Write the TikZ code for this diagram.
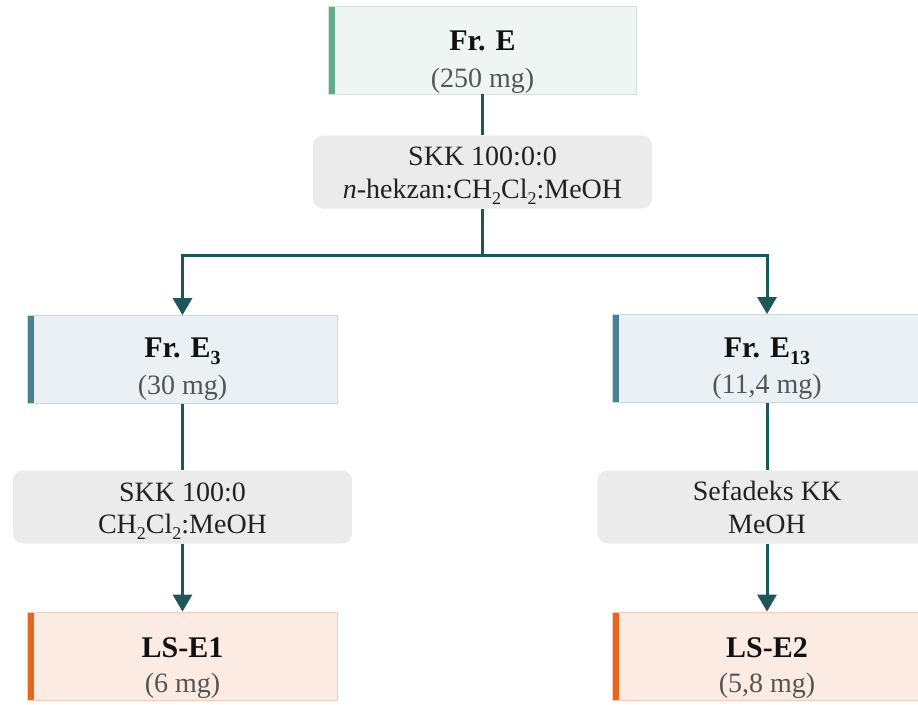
\documentclass[tikz,border=0pt]{standalone}
\usepackage{fontspec}
\setmainfont{Liberation Serif}
\usetikzlibrary{arrows.meta}

\definecolor{greenbar}{HTML}{62AA8E}
\definecolor{greenfill}{HTML}{EEF5F2}
\definecolor{greenline}{HTML}{CFE3DA}
\definecolor{bluebar}{HTML}{4B8093}
\definecolor{bluefill}{HTML}{EAF0F3}
\definecolor{blueline}{HTML}{C5DAE3}
\definecolor{orangebar}{HTML}{E8661C}
\definecolor{orangefill}{HTML}{FCEBE3}
\definecolor{orangeline}{HTML}{F6CDB8}
\definecolor{procfill}{HTML}{EBEBEB}
\definecolor{linkcol}{HTML}{1E5659}
\definecolor{masscol}{HTML}{555555}
\definecolor{titlecol}{HTML}{111111}
\definecolor{proccol}{HTML}{222222}

% lowered subscripts for the title lines and the solvent lines
\newcommand{\titlesub}[1]{\raisebox{-7pt}{\fontsize{20}{20}\selectfont #1}}
\newcommand{\procsub}[1]{\raisebox{-6pt}{\fontsize{18}{18}\selectfont #1}}

\begin{document}
\begin{tikzpicture}[x=1pt,y=-1pt,
  fracbox/.style n args={3}{draw=#1, fill=#2, line width=0.8pt,
    minimum width=310pt, minimum height=88pt, inner sep=0pt,
    path picture={\fill[#3] (path picture bounding box.north west)
      rectangle ([xshift=6.5pt]path picture bounding box.south west);}},
  greenbox/.style={fracbox={greenline}{greenfill}{greenbar}},
  bluebox/.style={fracbox={blueline}{bluefill}{bluebar}},
  orangebox/.style={fracbox={orangeline}{orangefill}{orangebar}},
  procbox/.style={fill=procfill, rounded corners=10pt,
    minimum width=339pt, minimum height=73pt, inner sep=0pt},
  titletext/.style={anchor=base, inner sep=0pt, text=titlecol,
    font=\fontsize{30}{36}\selectfont\bfseries},
  masstext/.style={anchor=base, inner sep=0pt, text=masscol,
    font=\fontsize{28}{34}\selectfont},
  proctext/.style={anchor=base, inner sep=0pt, text=proccol,
    font=\fontsize{28}{34}\selectfont},
  link/.style={draw=linkcol, line width=3pt},
  arrowlink/.style={link, -{Triangle[length=17pt,width=19pt]}}
]
\clip (0,0) rectangle (918,704);
\fill[white] (0,0) rectangle (918,704);

% fraction E and the first column
\node[greenbox, minimum width=308pt] (fre) at (482.5,50) {};
\node[titletext] (fre-t) at (482.5,50) {Fr. E};
\node[masstext] (fre-m) at (482.5,87) {(250 mg)};

\node[procbox] (skk) at (482.5,172) {};
\node[proctext] (skk-a) at (482.5,165) {SKK 100:0:0};
\node[proctext] (skk-b) at (482.5,198) {\textit{n}-hekzan:CH\procsub{2}Cl\procsub{2}:MeOH};

% sub-fractions
\node[bluebox] (fre3) at (182.5,359.5) {};
\node[titletext] (fre3-t) at (182.5,357) {Fr. E\titlesub{3}};
\node[masstext] (fre3-m) at (182.5,394) {(30 mg)};

\node[bluebox] (fre13) at (767,358.5) {};
\node[titletext] (fre13-t) at (767,357) {Fr. E\titlesub{13}};
\node[masstext] (fre13-m) at (767,393) {(11,4 mg)};

% second separation steps
\node[procbox] (skk2) at (182.5,507) {};
\node[proctext] (skk2-a) at (182.5,501) {SKK 100:0};
\node[proctext] (skk2-b) at (182.5,533) {CH\procsub{2}Cl\procsub{2}:MeOH};

\node[procbox] (sef) at (767,507) {};
\node[proctext] (sef-a) at (767,500) {Sefadeks KK};
\node[proctext] (sef-b) at (767,533) {MeOH};

% isolated compounds
\node[orangebox] (lse1) at (182.5,656) {};
\node[titletext] (lse1-t) at (182.5,657) {LS-E1};
\node[masstext] (lse1-m) at (182.5,692) {(6 mg)};

\node[orangebox] (lse2) at (767,656) {};
\node[titletext] (lse2-t) at (767,657) {LS-E2};
\node[masstext] (lse2-m) at (767,692) {(5,8 mg)};

% connectors
\coordinate (split) at (482.5,255);
\draw[link] (fre.south) -- (skk.north);
\draw[link] (skk.south) -- (split);
\draw[arrowlink] (split) -| (fre3.north);
\draw[arrowlink] (split) -| (fre13.north);
\draw[link] (fre3.south) -- (skk2.north);
\draw[link] (fre13.south) -- (sef.north);
\draw[arrowlink] (skk2.south) -- (lse1.north);
\draw[arrowlink] (sef.south) -- (lse2.north);
\end{tikzpicture}
\end{document}
